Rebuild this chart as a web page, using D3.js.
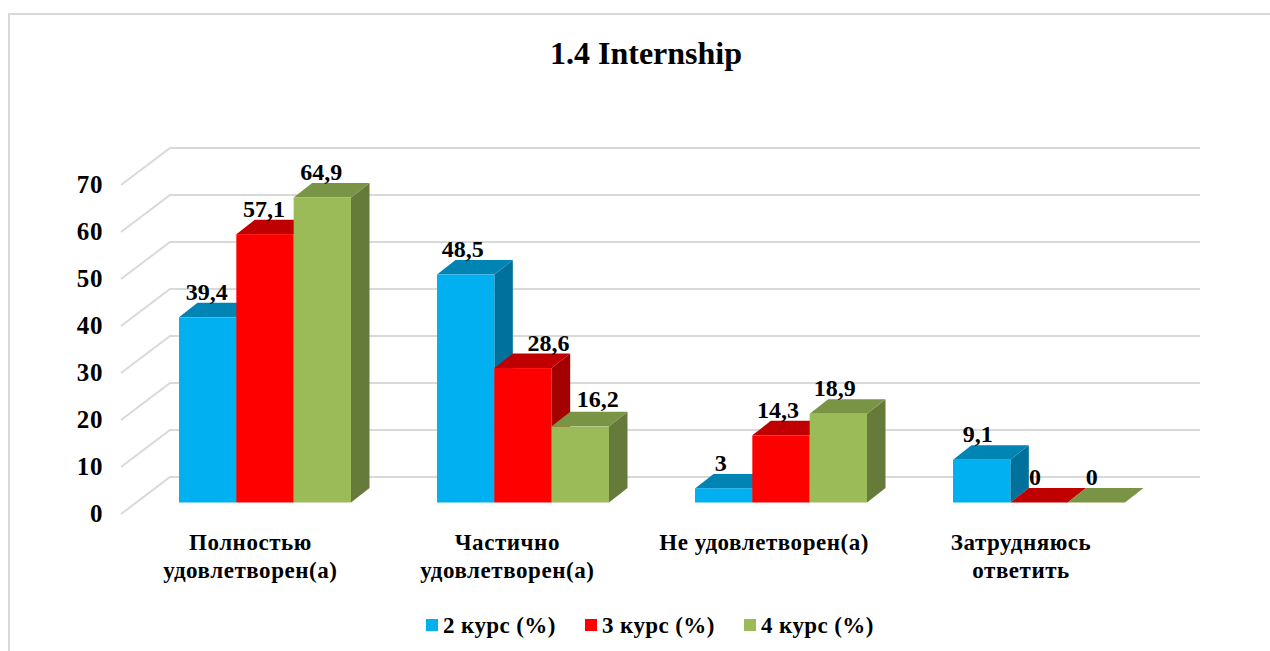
<!DOCTYPE html>
<html><head><meta charset="utf-8">
<script src="https://cdn.jsdelivr.net/npm/d3@7"></script>
<style>html,body{margin:0;padding:0;background:#fff}svg{display:block}text{font-family:"Liberation Serif",serif;font-weight:bold;fill:#000}</style>
</head><body><div id="c"></div>
<script>
const title = "1.4 Internship";
const categories = [["Полностью","удовлетворен(а)"],["Частично","удовлетворен(а)"],["Не удовлетворен(а)"],["Затрудняюсь","ответить"]];
const seriesNames = ["2 курс (%)","3 курс (%)","4 курс (%)"];
const course2 = [39.4,48.5,3,9.1];
const course3 = [57.1,28.6,14.3,0];
const course4 = [64.9,16.2,18.9,0];
const valueTicks = [0,10,20,30,40,50,60,70];
const seriesValues = [course2,course3,course4];
const frontColors = ["#00B0F0","#FF0000","#9BBB59"];
const topColors = ["#0084B4","#C00000","#7A9445"];
const sideColors = ["#00719A","#A50000","#667B39"];
// hand-placed label nudges seen in the picture, by series then category
const labelNudge = [[-1,-3,-3,-4],[-1,25.5,-3,-4],[-1,17.5,-3.5,-4.5]];
const labelLift = [[3,3,3,3],[3,3,3,3],[3,5,3,3]];

const W=1270,H=651;
const svg=d3.select("#c").append("svg").attr("width",W).attr("height",H);
// frame
svg.append("path").attr("d","M9,651V14H1270").attr("fill","none").attr("stroke","#D9D9D9").attr("stroke-width",2);
svg.append("text").attr("x",646).attr("y",64).attr("text-anchor","middle").attr("font-size",32).text(title);

const floorDx=49,floorDy=37,barDx=18.5,barDy=14.5,offX=15,offY=11.5,gridRight=1200;
const x=d3.scaleBand().domain(d3.range(categories.length)).range([121,1153]);
const xLabel=d3.scaleBand().domain(d3.range(categories.length)).range([122,1149.5]);
const y=d3.scaleLinear().domain([0,70]).range([514,185]);
const xs=d3.scaleBand().domain(d3.range(seriesNames.length)).range([0,172]);

// grid
const grid=svg.append("g").attr("fill","none").attr("stroke","#D9D9D9").attr("stroke-width",2);
grid.selectAll("path").data(valueTicks).join("path")
  .attr("d",d=>`M${x.range()[0]},${y(d)}L${x.range()[0]+floorDx},${y(d)-floorDy}H${gridRight}`);
// ticks
svg.append("g").selectAll("text").data(valueTicks).join("text")
  .attr("x",103).attr("y",d=>y(d)+8).attr("text-anchor","end").attr("font-size",25).attr("letter-spacing",0.6).text(d=>d);

// bars
const barsLeft=i=>x(i)+x.bandwidth()/2-xs.bandwidth()*1.5+offX;
const base=y(0)-offY;
categories.forEach((c,i)=>{
  seriesValues.forEach((vals,s)=>{
    const v=vals[i],x0=barsLeft(i)+xs(s),w=xs.bandwidth(),yt=y(v)-offY;
    const g=svg.append("g");
    g.append("path").attr("fill",sideColors[s]).attr("d",`M${x0+w},${yt}l${barDx},${-barDy}V${base-barDy}L${x0+w},${base}Z`);
    g.append("path").attr("fill",topColors[s]).attr("d",`M${x0},${yt}l${barDx},${-barDy}h${w}l${-barDx},${barDy}Z`);
    g.append("rect").attr("x",x0).attr("y",yt).attr("width",w).attr("height",base-yt).attr("fill",frontColors[s]);
  });
});
// value labels
categories.forEach((c,i)=>{
  seriesValues.forEach((vals,s)=>{
    const v=vals[i];
    svg.append("text").attr("x",barsLeft(i)+xs(s)+xs.bandwidth()/2+labelNudge[s][i])
      .attr("y",y(v)-offY-barDy-labelLift[s][i]).attr("text-anchor","middle").attr("font-size",24)
      .text(String(v).replace(".",","));
  });
});
// category labels
const cat=svg.append("g");
categories.forEach((lines,i)=>{
  lines.forEach((t,k)=>{
    cat.append("text").attr("x",xLabel(i)+xLabel.bandwidth()/2).attr("y",549.5+k*28).attr("text-anchor","middle").attr("font-size",23).attr("letter-spacing",0.55).text(t);
  });
});
// legend
const legX=[426,585,744];
const lg=svg.append("g");
seriesNames.forEach((n,s)=>{
  lg.append("rect").attr("x",legX[s]).attr("y",619).attr("width",12).attr("height",12).attr("fill",frontColors[s]);
  lg.append("text").attr("x",legX[s]+17).attr("y",633).attr("font-size",23).attr("letter-spacing",0.4).text(n);
});
</script></body></html>
